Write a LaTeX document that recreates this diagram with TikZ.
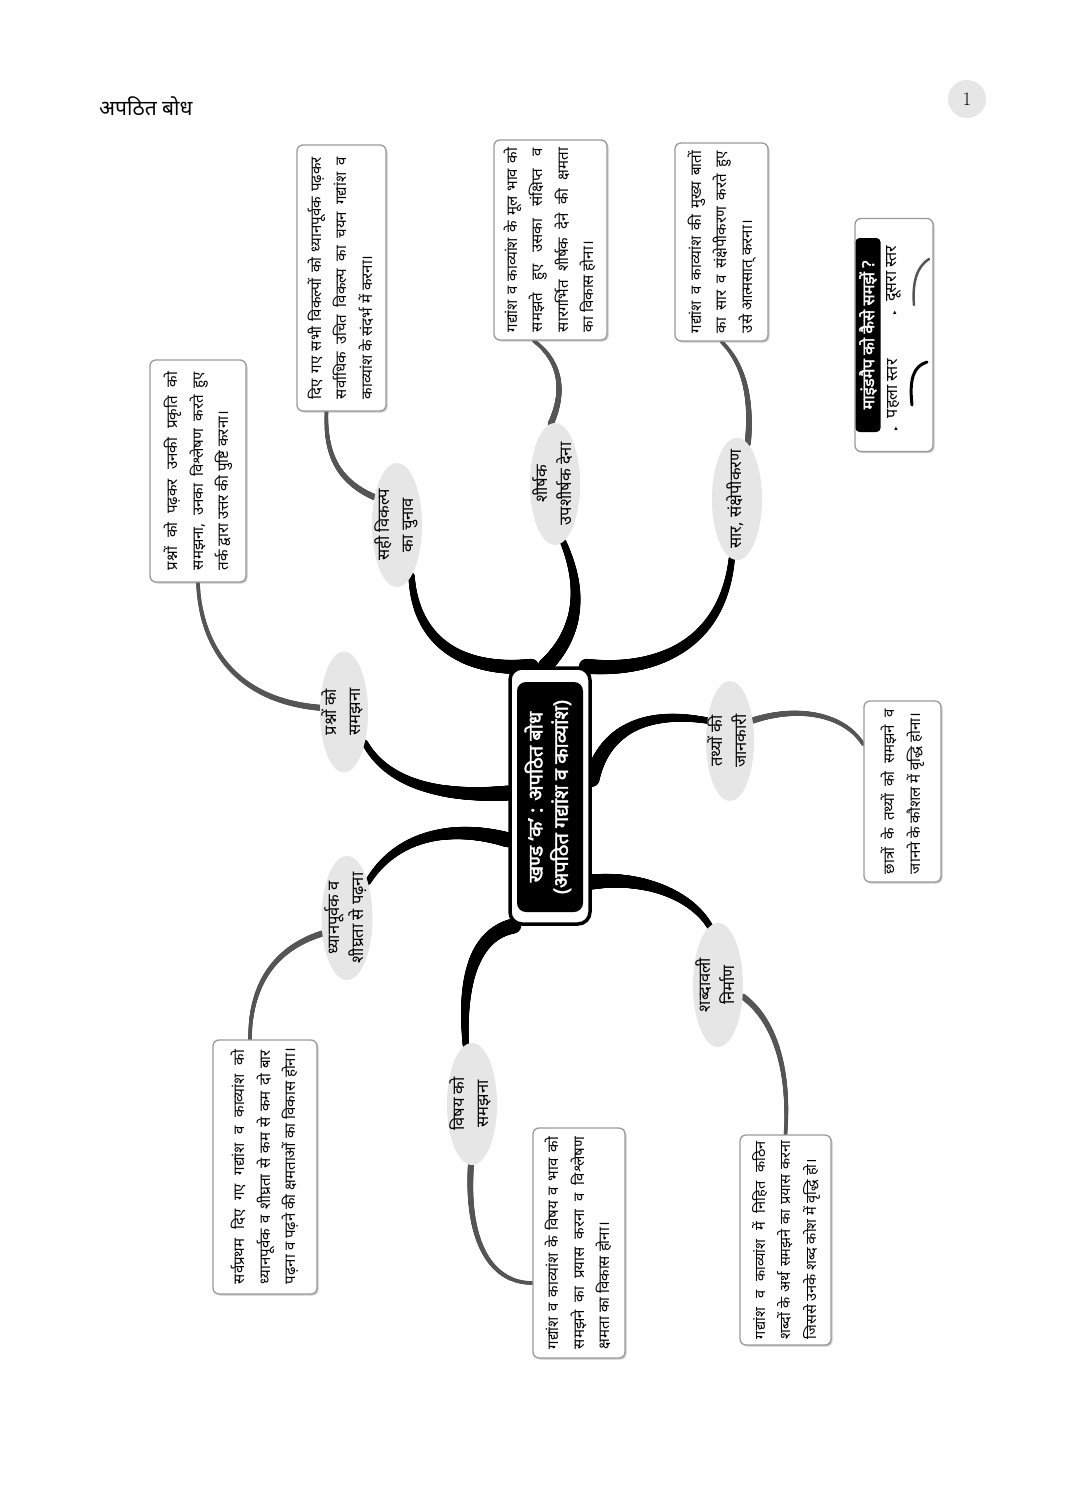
\documentclass[tikz,border=0pt]{standalone}
\usepackage{fontspec}
\usepackage{graphicx}
\newfontfamily\dev[Script=Devanagari]{Noto Sans}
\newfontfamily\devb[Script=Devanagari,FakeBold=2.2]{Noto Sans}
\newfontfamily\symf{DejaVu Sans}
\usetikzlibrary{shapes.geometric,shadows,backgrounds,decorations.markings}
\definecolor{bubblegray}{HTML}{E6E6E6}
\definecolor{boxline}{HTML}{9A9A9A}
\definecolor{subgray}{HTML}{555555}
\newlength{\mmw}
\newcommand{\jl}[1]{\makebox[\mmw][s]{#1}}
\newcommand{\mmbox}[2]{\setlength{\mmw}{#1}\rotatebox{90}{\makebox[\mmw][l]{\begin{tabular}{@{}l@{}}#2\end{tabular}}}}
\newcommand{\mmbub}[1]{\rotatebox{90}{\begin{tabular}{@{}c@{}}#1\end{tabular}}}
\begin{document}
\begin{tikzpicture}[x=1pt,y=-1pt,
  txtbox/.style={draw=boxline, line width=1.3pt, rounded corners=6pt, fill=white, inner sep=0pt,
     drop shadow={shadow xshift=1.5pt, shadow yshift=-1.5pt, opacity=0.35, fill=black!60},
     font=\dev\fontsize{15}{25.5}\selectfont},
  bubble/.style={ellipse, fill=bubblegray, inner sep=0pt},
  bubtxt/.style={inner sep=0pt, font=\dev\fontsize{16.5}{24}\selectfont},
  mainbr/.style={draw=black, line width=6.2pt, line cap=round,
     postaction={decorate, decoration={markings,
       mark=between positions 0 and 1 step 0.004 with {%
         \pgfmathsetmacro\rr{3.1+4.4*\pgfkeysvalueof{/pgf/decoration/mark info/distance from start}/\pgfdecoratedpathlength}%
         \fill[black] (0,0) circle (\rr pt);}}}},
  subbr/.style={draw=subgray, line width=3.6pt, line cap=round,
     postaction={decorate, decoration={markings,
       mark=between positions 0 and 1 step 0.005 with {%
         \pgfmathsetmacro\rr{3.1-1.3*\pgfkeysvalueof{/pgf/decoration/mark info/distance from start}/\pgfdecoratedpathlength}%
         \fill[subgray] (0,0) circle (\rr pt);}}}},
]
\useasboundingbox (0,0) rectangle (1091,1500);
\begin{scope}[on background layer]
\fill[white] (0,0) rectangle (1091,1500);
\end{scope}

% header
\node[anchor=west, inner sep=0pt, font=\dev\fontsize{21}{24}\selectfont] (hdr) at (99,106) {अपठित बोध};
\node[circle, fill=bubblegray, minimum size=38pt, inner sep=0pt, font=\fontsize{19}{21}\selectfont] (pg) at (967,99) {1};

% centre
\node[draw=black, line width=3.5pt, rounded corners=12pt, fill=white, minimum width=80pt, minimum height=256pt, inner sep=0pt] (ctr) at (550,796) {};
\node[fill=black, rounded corners=9pt, minimum width=66pt, minimum height=230pt, inner sep=0pt, text=white, font=\devb\fontsize{20}{25}\selectfont] (ctrin) at (550,797) {\mmbub{खण्ड ‘क’ : अपठित बोध\\(अपठित गद्यांश व काव्यांश)}};

% bubbles
\node[bubble, minimum width=48pt, minimum height=121pt] (q1) at (344,712) {};
\node[bubtxt] at (q1) {\mmbub{प्रश्नों को\\समझना}};
\node[bubble, minimum width=50pt, minimum height=124pt] (q2) at (397,525) {};
\node[bubtxt] at (q2) {\mmbub{सही विकल्प\\का चुनाव}};
\node[bubble, minimum width=50pt, minimum height=122pt] (q3) at (555,484) {};
\node[bubtxt] at (q3) {\mmbub{शीर्षक\\उपशीर्षक देना}};
\node[bubble, minimum width=50pt, minimum height=122pt] (q4) at (737,499) {};
\node[bubtxt] at (q4) {\mmbub{सार, संक्षेपीकरण}};
\node[bubble, minimum width=48pt, minimum height=120pt] (q5) at (730,741) {};
\node[bubtxt] at (q5) {\mmbub{तथ्यों की\\जानकारी}};
\node[bubble, minimum width=51pt, minimum height=124pt] (q6) at (347,918) {};
\node[bubtxt] at (q6) {\mmbub{ध्यानपूर्वक व\\शीघ्रता से पढ़ना}};
\node[bubble, minimum width=50pt, minimum height=122pt] (q7) at (472,1104) {};
\node[bubtxt] at (q7) {\mmbub{विषय को\\समझना}};
\node[bubble, minimum width=50pt, minimum height=124pt] (q8) at (718,985) {};
\node[bubtxt] at (q8) {\mmbub{शब्दावली\\निर्माण}};

% text boxes
\node[txtbox, minimum width=96pt, minimum height=222pt] (bA) at (198,471)
  {\mmbox{198pt}{\jl{प्रश्नों को पढ़कर उनकी प्रकृति को}\\\jl{समझना, उनका विश्लेषण करते हुए}\\तर्क द्वारा उत्तर की पुष्टि करना।}};
\node[txtbox, minimum width=89pt, minimum height=266pt] (bB) at (341.5,278)
  {\mmbox{242pt}{\jl{दिए गए सभी विकल्पों को ध्यानपूर्वक पढ़कर}\\\jl{सर्वाधिक उचित विकल्प का चयन गद्यांश व}\\काव्यांश के संदर्भ में करना।}};
\node[txtbox, minimum width=113pt, minimum height=200pt] (bC) at (550.5,240)
  {\mmbox{184pt}{\jl{गद्यांश व काव्यांश के मूल भाव को}\\\jl{समझते हुए उसका संक्षिप्त व}\\\jl{सारगर्भित शीर्षक देने की क्षमता}\\का विकास होना।}};
\node[txtbox, minimum width=93pt, minimum height=198pt] (bD) at (721.5,242)
  {\mmbox{182pt}{\jl{गद्यांश व काव्यांश की मुख्य बातों}\\\jl{का सार व संक्षेपीकरण करते हुए}\\उसे आत्मसात् करना।}};
\node[txtbox, minimum width=77pt, minimum height=181pt] (bE) at (902.5,791.5)
  {\mmbox{165pt}{\jl{छात्रों के तथ्यों को समझने व}\\जानने के कौशल में वृद्धि होना।}};
\node[txtbox, minimum width=104pt, minimum height=254pt] (bF) at (265,1167)
  {\mmbox{234pt}{\jl{सर्वप्रथम दिए गए गद्यांश व काव्यांश को}\\\jl{ध्यानपूर्वक व शीघ्रता से कम से कम दो बार}\\पढ़ना व पढ़ने की क्षमताओं का विकास होना।}};
\node[txtbox, minimum width=92pt, minimum height=230pt] (bG) at (579,1243)
  {\mmbox{212pt}{\jl{गद्यांश व काव्यांश के विषय व भाव को}\\\jl{समझने का प्रयास करना व विश्लेषण}\\क्षमता का विकास होना।}};
\node[txtbox, minimum width=91pt, minimum height=210pt, font=\dev\fontsize{14.5}{25.5}\selectfont] (bH) at (785.5,1240)
  {\mmbox{198pt}{\jl{गद्यांश व काव्यांश में निहित कठिन}\\\jl{शब्दों के अर्थ समझने का प्रयास करना}\\जिससे उनके शब्द कोश में वृद्धि हो।}};

% legend
\node[txtbox, minimum width=78pt, minimum height=233pt] (lg) at (894,335) {};
\node[fill=black, rounded corners=4pt, minimum width=25pt, minimum height=194pt, inner sep=0pt, text=white, font=\devb\fontsize{16.5}{18}\selectfont] (lgt) at (868,335) {\rotatebox{90}{माइंडमैप को कैसे समझें ?}};
\node[inner sep=0pt, font=\dev\fontsize{16}{18}\selectfont] (li1) at (894,395) {\rotatebox{90}{{\symf\fontsize{7}{7}\selectfont ▸}\hspace{9pt}पहला स्तर}};
\node[inner sep=0pt, font=\dev\fontsize{16}{18}\selectfont] (li2) at (894,280) {\rotatebox{90}{{\symf\fontsize{7}{7}\selectfont ▸}\hspace{9pt}दूसरा स्तर}};
\draw[line width=3pt, line cap=round] (912,405) .. controls (909,378) and (914,366) .. (927,362);
\draw[line width=2.5pt, subgray, line cap=round] (914,305) .. controls (912,280) and (918,266) .. (929,259);

% connectors
\begin{scope}[on background layer]
\path[mainbr] (q1.-56) .. controls (390,788) and (450,797) .. ([yshift=3pt]ctr.west);
\path[mainbr] (q2.-74) .. controls (415,640) and (460,672) .. ([xshift=-18pt]ctr.north);
\path[mainbr] (q3.-82) .. controls (588,600) and (572,640) .. ([xshift=-5pt]ctr.north);
\path[mainbr] (q4.-95) .. controls (722,650) and (650,672) .. ([xshift=-6pt]ctr.north east);
\path[mainbr] (q5.138) .. controls (645,710) and (604,730) .. ([yshift=16pt]ctr.east);
\path[mainbr] (q6.60) .. controls (400,830) and (460,826) .. ([yshift=-44pt]ctr.west);
\path[mainbr] (q7.96) .. controls (462,990) and (470,935) .. ([xshift=6pt]ctr.south west);
\path[mainbr] (q8.98) .. controls (690,893) and (640,876) .. ([yshift=-86pt]ctr.east);

\path[subbr] (q1.170) .. controls (230,700) and (200,640) .. (bA.south);
\path[subbr] (q2.129) .. controls (335,480) and (325,450) .. ([xshift=-15pt]bB.south);
\path[subbr] (q3.94) .. controls (566,390) and (560,360) .. ([xshift=-17pt]bC.south);
\path[subbr] (q4.79) .. controls (752,400) and (745,365) .. (bD.south);
\path[subbr] (q5.42) .. controls (800,705) and (845,715) .. ([yshift=47pt]bE.west);
\path[subbr] (q6.-148) .. controls (270,950) and (250,990) .. ([xshift=-15pt]bF.north);
\path[subbr] (q7.-91) .. controls (466,1240) and (490,1283) .. ([yshift=-40pt]bG.west);
\path[subbr] (q8.-25) .. controls (775,1020) and (790,1070) .. (bH.north);
\end{scope}
\end{tikzpicture}
\end{document}
